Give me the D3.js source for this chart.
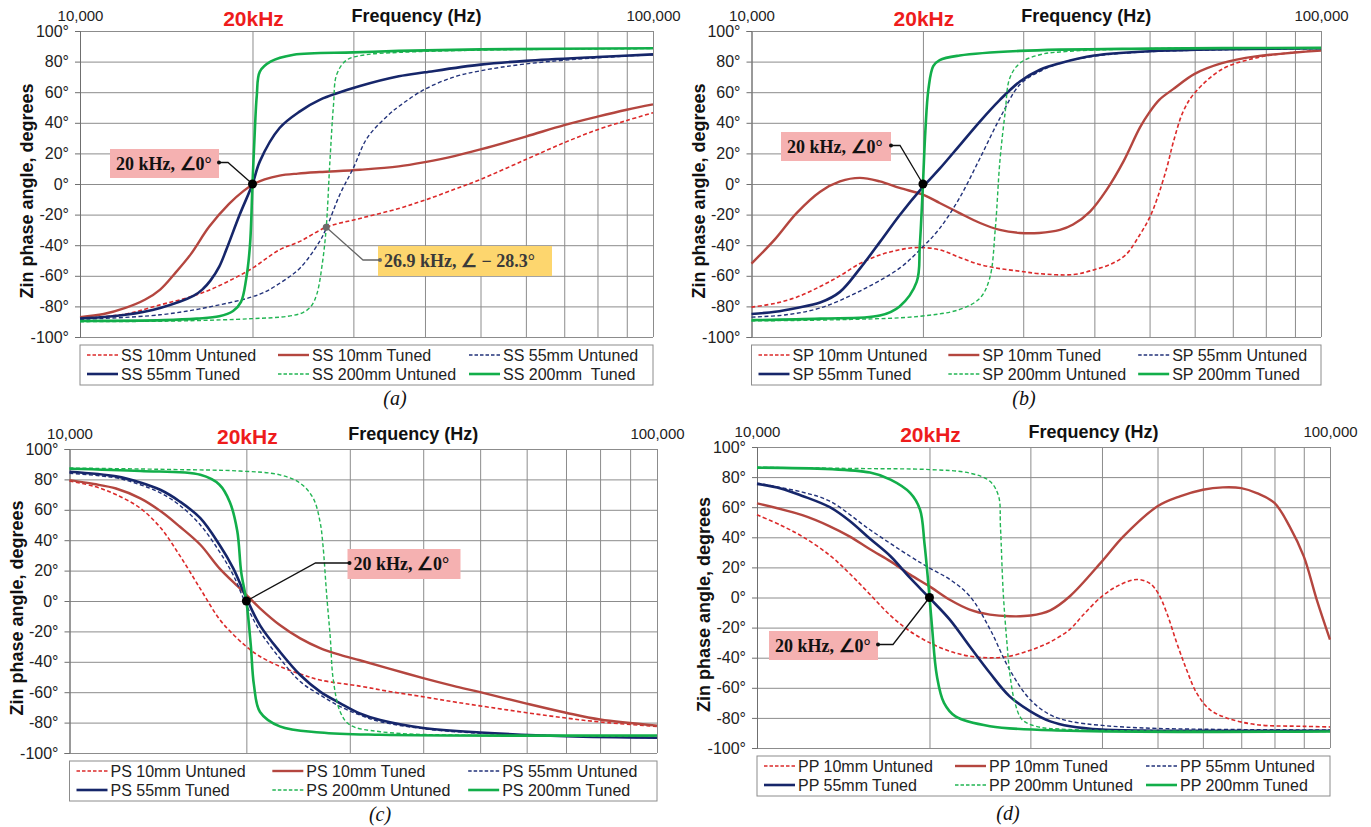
<!DOCTYPE html>
<html>
<head>
<meta charset="utf-8">
<script src="https://cdn.jsdelivr.net/npm/d3@7"></script>
<style>
  body { margin: 0; background: #fff; }
  svg { display: block; font-family: 'Liberation Sans', Arial, sans-serif; }
  .grid line { stroke: #8c8c8c; stroke-width: 1; }
  .grid .domain { display: none; }
  .yaxis .domain, .yaxis line { stroke: #6f6f6f; }
  .yaxis text { font-size: 16px; fill: #222; }
  .topaxis text { font-size: 15px; fill: #222; }
  .legend text { font-size: 16px; fill: #222; white-space: pre; }
</style>
</head>
<body>
<svg></svg>
<script>
//DATA  (frequency in kHz, Zin phase angle in degrees)

// (a) series-series
var ss10Untuned = [[10,-88],[12,-85],[13.8,-79],[15.5,-74],[16.9,-69],[18.5,-62],[20,-55],[22.3,-43],[24.2,-37.5],[26.9,-28.3],[30.8,-22.5],[36,-16],[40,-10.5],[45,-3.5],[50,3],[60,16],[70,27],[80,35.5],[90,41.5],[100,46.6]];
var ss10Tuned = [[10,-87],[11,-85],[12,-81],[13,-75.5],[13.8,-69],[14.6,-59],[15.6,-46],[16.8,-28],[18.2,-13],[19.3,-4.5],[20,-0.5],[21,3],[22.3,5.5],[24,6.8],[26.2,7.8],[30.8,9.3],[36,11.5],[40,14.3],[45,18.2],[50,22.6],[60,31],[70,38.5],[80,44],[90,48.5],[100,52]];
var ss55Untuned = [[10,-88.5],[13.8,-85.5],[17,-80],[20.6,-72],[22.5,-64],[24.2,-55],[26.2,-37.5],[26.9,-29],[28.4,-7],[30,10.5],[31.7,30],[34.5,45],[36.1,51],[40,62],[45,70],[50,74],[60,78.5],[80,82.5],[100,84.5]];
var ss55Tuned = [[10,-88],[12,-85.5],[13.8,-81],[15.8,-73],[16.4,-68.5],[16.9,-63],[17.5,-54],[18,-43],[19,-20],[20,0],[20.6,14.8],[22.3,36.6],[24.2,47.5],[26.2,55],[30.8,64],[36,70.4],[40,73],[50,78],[60,80.5],[80,83],[100,84.7]];
var ss200Untuned = [[10,-90],[15,-89.5],[20,-88],[23,-86.5],[24.5,-84],[25.3,-80],[25.9,-72],[26.5,-51],[26.9,-28.3],[27.3,15],[27.7,52],[28.05,71.5],[29.2,81],[31.6,84.5],[36,86],[50,87.5],[100,88.5]];
var ss200Tuned = [[10,-89.5],[14,-89],[16,-88],[17.5,-86.5],[18.5,-83],[19.1,-77],[19.5,-62],[19.8,-40],[20,0],[20.2,37],[20.35,58],[20.6,73.5],[21.5,80],[23.6,84.5],[30,86],[36,87],[50,88],[100,88.7]];

// (b) series-parallel
var sp10Untuned = [[10,-80.5],[11,-78],[12,-74],[13.2,-67],[14.3,-60],[15.5,-52],[16.8,-46.4],[18.2,-43],[19.6,-41.5],[21.4,-43],[23.2,-48],[25.2,-52.7],[27.3,-55.3],[29.6,-57],[32,-58.6],[36.7,-59.2],[40,-56],[43,-52],[45.5,-46],[48.1,-33],[50,-22],[51.4,-11],[53.6,10.5],[55.1,28],[57.3,47.5],[60,59.5],[67,75],[76.8,82.4],[87,85.5],[100,87.5]];
var sp10Tuned = [[10,-52],[11,-36],[12,-19],[13.2,-5],[14.3,1.7],[15.5,4],[16.8,1.7],[18.2,-2.6],[20,-7],[21.4,-12.4],[23.2,-19],[25.2,-25.5],[27.3,-30],[29.6,-32],[32,-32],[34.8,-30],[36.7,-26.5],[39.3,-18],[42,-4],[45,14.8],[48.1,37],[50,47],[52,55],[55,62],[60,72],[67,79],[76.8,83.4],[100,87.2]];
var sp55Untuned = [[10,-87],[11.5,-85.5],[13.2,-81],[15.5,-70],[18.2,-55],[20,-41],[21.4,-29],[23.2,-9],[25.2,17],[27.3,43],[29.6,65],[32.1,73.6],[34.8,79],[40,83.5],[50,86.5],[100,88.5]];
var sp55Tuned = [[10,-85],[11,-83.5],[12,-81],[13.2,-77.5],[14.3,-70.5],[15.5,-55.3],[16.8,-38],[18.2,-20.4],[20,-1.9],[21.4,10],[23.2,25.3],[25.2,41],[27.3,55],[29.6,67],[32.1,74.7],[34.8,79],[40,84],[50,86.8],[100,88.7]];
var sp200Untuned = [[10,-89.5],[15,-88.5],[19.7,-86.5],[23.2,-82],[25.2,-74.5],[26.2,-61.5],[26.8,-29],[27.3,15],[27.9,47.5],[28.4,69],[29.6,79],[32.1,84.5],[34.8,86.3],[50,88.5],[100,89]];
var sp200Tuned = [[10,-89],[13.2,-88],[16.8,-86],[18.2,-80],[19.5,-64],[19.75,-40],[20,0],[20.2,35],[20.45,62],[20.85,77],[21.4,81],[23.2,84],[29.6,87],[50,88.5],[100,89]];

// (c) parallel-series
var ps10Untuned = [[10,79],[11,75.5],[12,70],[13.2,61],[14.3,48],[15.4,30],[16.7,8],[18,-12],[19,-22],[20,-30],[21,-36],[22.8,-43],[24.7,-48],[26.7,-52],[31.2,-56],[35,-59.5],[40,-63],[45,-66.3],[50,-69],[60,-73.5],[70,-77],[80,-79.6],[100,-82.5]];
var ps10Tuned = [[10,79.5],[11,77],[12,74],[13.2,67.5],[14.3,59],[15.4,49],[16.7,37],[18,21.5],[19.5,8.3],[20,4],[21.1,-4.8],[22.8,-15.8],[24.7,-24.6],[26.7,-31],[28.9,-35.5],[31.2,-39],[35,-44.5],[40,-50.7],[45,-55.8],[50,-60],[60,-67.5],[70,-73.5],[80,-78],[100,-82]];
var ps55Untuned = [[10,84],[12,81],[13.2,76.5],[14.3,71],[15.4,63],[16.7,50],[18,32.5],[19,17],[20,-2.6],[21.1,-20],[22.8,-37.7],[24.7,-53],[26.7,-61.8],[28.9,-69.5],[31.2,-75],[33.8,-79.4],[40,-84],[50,-87],[100,-90]];
var ps55Tuned = [[10,85],[12,82],[13.2,78],[14.3,73],[15.4,65.5],[16.7,54.5],[18,37],[19,21.5],[20,2],[21.1,-16],[22.8,-33.3],[24.7,-48.7],[26.7,-59.6],[28.9,-67.3],[31.2,-74],[33.8,-78.3],[40,-83.5],[50,-86.5],[70,-89],[100,-90]];
var ps200Untuned = [[10,87.5],[15,86.5],[19.5,85.5],[22.8,83],[24.7,77.5],[26,67.5],[26.7,52],[27,37],[27.4,4],[27.8,-25],[28.1,-51],[28.9,-73],[30,-81.5],[33.8,-86],[50,-88.5],[100,-89]];
var ps200Tuned = [[10,87],[13.2,85.5],[16.7,83],[18,76.5],[18.75,65],[19.3,46],[19.6,19],[20,0],[20.35,-29],[20.6,-55],[21.1,-73],[22.8,-82.5],[26.7,-86.5],[33.8,-88],[100,-88.5]];

// (d) parallel-parallel
var pp10Untuned = [[10,55],[11,48],[12,40.5],[13.4,28],[14.5,16],[15.75,2],[17.1,-12],[18.5,-22.5],[20,-30],[21.7,-35.7],[23.5,-39],[25.5,-40.1],[27.6,-39],[30,-35],[32.5,-29.5],[35.2,-21],[37,-12],[40,0.8],[43,8.5],[46,12],[48.4,9.6],[50.1,3],[51.9,-10.3],[54,-30],[56.2,-48],[58.5,-63.4],[61.7,-74.5],[66,-80],[74.5,-84.5],[90,-85.6],[100,-86]];
var pp10Tuned = [[10,62.5],[12,54.7],[13.4,47.3],[14.5,40.6],[15.75,32],[17.1,24],[18.5,15.2],[20,7.4],[21.7,-1.5],[23.5,-8],[25.5,-11.4],[27.6,-12.5],[30,-12],[32.5,-8.5],[35.2,1],[40,24],[43.6,40.6],[50,60.6],[54.7,67.2],[60,71.6],[65,73.2],[70,72.7],[74.5,69.4],[80,62.8],[85,47.3],[90,27.3],[94.8,-1.4],[100,-28]];
var pp55Untuned = [[10,76],[12,70],[13.4,64],[15.75,45],[18.5,27.4],[20,19.6],[21.7,12],[23.5,1],[25.5,-21],[27.6,-48],[30,-68],[32.5,-78],[35.2,-82.3],[40,-85],[50,-87],[100,-88]];
var pp55Tuned = [[10,75.5],[11,72.5],[12,67.5],[13.4,60],[14.5,51],[15.75,39],[17.1,27.4],[18.5,13],[20,-0.3],[21.7,-14.7],[23.5,-32.4],[25.5,-50.2],[27.6,-65.7],[30,-75.6],[32.5,-82.3],[35.2,-85.6],[40,-87.8],[50,-88.5],[100,-88.5]];
var pp200Untuned = [[10,86.5],[15,85.7],[20,85],[23.5,82.7],[25.5,77.2],[26.4,67.3],[26.6,47],[26.9,3],[27.3,-30],[27.65,-52],[28.2,-70],[29,-81],[30.6,-85.5],[35,-87.7],[100,-89]];
var pp200Tuned = [[10,86.3],[15.75,83],[17.1,78.3],[18.5,69.5],[19.25,58.5],[19.6,36],[19.9,10],[20.2,-19],[20.6,-52],[21.2,-70],[22.2,-79],[25.5,-85.5],[35,-88.5],[100,-89]];

// LEGEND NAMES
var ssNames = ['SS 10mm Untuned', 'SS 10mm Tuned', 'SS 55mm Untuned', 'SS 55mm Tuned', 'SS 200mm Untuned', 'SS 200mm  Tuned'];
var spNames = ['SP 10mm Untuned', 'SP 10mm Tuned', 'SP 55mm Untuned', 'SP 55mm Tuned', 'SP 200mm Untuned', 'SP 200mm Tuned'];
var psNames = ['PS 10mm Untuned', 'PS 10mm Tuned', 'PS 55mm Untuned', 'PS 55mm Tuned', 'PS 200mm Untuned', 'PS 200mm Tuned'];
var ppNames = ['PP 10mm Untuned', 'PP 10mm Tuned', 'PP 55mm Untuned', 'PP 55mm Tuned', 'PP 200mm Untuned', 'PP 200mm Tuned'];

// TICKS
var yTicks = [100, 80, 60, 40, 20, 0, -20, -40, -60, -80, -100];
var freqGrid = [10, 20, 30, 40, 50, 60, 70, 80, 90, 100];
var freqLabels = [10, 100];

// ANNOTATIONS (panel index, kHz, degrees, label)
var annPanel = [0, 0, 1, 2, 3];
var annKhz = [20, 26.9, 20, 20, 20];
var annDeg = [0, -28.3, 0, 0, 0];
var annText = ['20 kHz, \u22200\u00b0', '26.9 kHz, \u2220 \u2212 28.3\u00b0', '20 kHz, \u22200\u00b0', '20 kHz, \u22200\u00b0', '20 kHz, \u22200\u00b0'];

//STYLES
var seriesColor = ['#dc2a2a', '#b4463f', '#22327a', '#16266a', '#22b553', '#12ae4a'];
var seriesWidth = [1.6, 2.4, 1.4, 2.6, 1.4, 2.6];
var seriesDash = ['4,2.5', null, '4,2.5', null, '4,2.5', null];

// box layout for annotations, relative to plot top-left
var annBox = [
    {x: 30, y: 118, w: 109, h: 29, fill: '#f5b1b1', color: '#111', elbow: 148, side: 'right'},
    {x: 298, y: 215, w: 174, h: 30, fill: '#fdd66e', color: '#3a3a3a', elbow: 283, side: 'left'},
    {x: 29.5, y: 101, w: 110, h: 29, fill: '#f5b1b1', color: '#111', elbow: 148.5, side: 'right'},
    {x: 278, y: 100, w: 113, h: 30, fill: '#f5b1b1', color: '#111', elbow: 246, side: 'left'},
    {x: 12, y: 184, w: 109, h: 29, fill: '#f5b1b1', color: '#111', elbow: 136, side: 'right'}
];

//PANEL SETUP
var panels = [
    {series: [ss10Untuned, ss10Tuned, ss55Untuned, ss55Tuned, ss200Untuned, ss200Tuned], names: ssNames,
     left: 80, right: 653, top: 31, bottom: 337, caption: '(a)', capX: 395, capY: 405},
    {series: [sp10Untuned, sp10Tuned, sp55Untuned, sp55Tuned, sp200Untuned, sp200Tuned], names: spNames,
     left: 751.5, right: 1321, top: 31, bottom: 337, caption: '(b)', capX: 1024, capY: 405},
    {series: [ps10Untuned, ps10Tuned, ps55Untuned, ps55Tuned, ps200Untuned, ps200Tuned], names: psNames,
     left: 69.5, right: 657, top: 449, bottom: 753, caption: '(c)', capX: 380, capY: 821},
    {series: [pp10Untuned, pp10Tuned, pp55Untuned, pp55Tuned, pp200Untuned, pp200Tuned], names: ppNames,
     left: 757, right: 1330, top: 447, bottom: 748, caption: '(d)', capX: 1008, capY: 820}
];

var svg = d3.select('svg')
    .attr('width', 1371)
    .attr('height', 827);

svg.append('rect')
    .attr('width', 1371)
    .attr('height', 827)
    .attr('fill', '#fff');

panels.forEach(function(p, pi) {
    var x = d3.scaleLog().domain([10, 100]).range([p.left, p.right]);
    var y = d3.scaleLinear().domain([-100, 100]).range([p.bottom, p.top]);
    var w = p.right - p.left;
    var h = p.bottom - p.top;

    var g = svg.append('g');

    //GRID
    g.append('g')
        .attr('class', 'grid')
        .attr('transform', 'translate(0,' + p.bottom + ')')
        .call(d3.axisBottom(x).tickValues(freqGrid).tickSize(-h).tickFormat(''));

    g.append('g')
        .attr('class', 'grid')
        .attr('transform', 'translate(' + p.left + ',0)')
        .call(d3.axisRight(y).tickValues(yTicks).tickSize(w).tickFormat(''));

    //AXES
    g.append('g')
        .attr('class', 'yaxis')
        .attr('transform', 'translate(' + p.left + ',0)')
        .call(d3.axisLeft(y).tickValues(yTicks).tickSize(5).tickPadding(6)
            .tickFormat(function(d) { return d + '\u00b0'; }));

    g.append('g')
        .attr('class', 'topaxis')
        .attr('transform', 'translate(0,' + p.top + ')')
        .call(d3.axisTop(x).tickValues(freqLabels).tickSize(0).tickPadding(10)
            .tickFormat(function(d) { return d3.format(',')(d * 1000); }))
        .call(function(s) { s.select('.domain').remove(); });

    g.append('text')
        .text('Frequency (Hz)')
        .attr('x', p.left + w / 2 + 50)
        .attr('y', p.top - 9)
        .attr('text-anchor', 'middle')
        .attr('font-size', 18)
        .attr('font-weight', 'bold')
        .attr('fill', '#111');

    g.append('text')
        .text('20kHz')
        .attr('x', x(20) + 1)
        .attr('y', p.top - 5)
        .attr('text-anchor', 'middle')
        .attr('font-size', 21)
        .attr('font-weight', 'bold')
        .attr('fill', '#ee1c1c');

    g.append('text')
        .text('Zin phase angle, degrees')
        .attr('transform', 'translate(' + (p.left - 53) + ',' + (p.top + h / 2 + 7) + ') rotate(-90)')
        .attr('text-anchor', 'middle')
        .attr('dominant-baseline', 'central')
        .attr('font-size', 18)
        .attr('font-weight', 'bold')
        .attr('fill', '#111');

    //CURVES
    var line = d3.line()
        .x(function(d) { return x(d[0]); })
        .y(function(d) { return y(d[1]); })
        .curve(d3.curveCatmullRom.alpha(0.5));

    g.selectAll('.curve')
        .data(p.series)
        .enter()
        .append('path')
        .attr('class', 'curve')
        .attr('d', line)
        .attr('fill', 'none')
        .attr('stroke', function(d, i) { return seriesColor[i]; })
        .attr('stroke-width', function(d, i) { return seriesWidth[i]; })
        .attr('stroke-dasharray', function(d, i) { return seriesDash[i]; });

    //LEGEND
    var lg = g.append('g')
        .attr('class', 'legend')
        .attr('transform', 'translate(' + p.left + ',' + (p.bottom + 8) + ')');

    lg.append('rect')
        .attr('width', w)
        .attr('height', 40)
        .attr('fill', '#fff')
        .attr('stroke', '#8c8c8c');

    var item = lg.selectAll('.item')
        .data(p.names)
        .enter()
        .append('g')
        .attr('class', 'item')
        .attr('transform', function(d, i) {
            return 'translate(' + (7 + (i % 3) * w / 3) + ',' + (10 + Math.floor(i / 3) * 19) + ')';
        });

    item.append('line')
        .attr('x1', 0)
        .attr('x2', 31)
        .attr('stroke', function(d, i) { return seriesColor[i]; })
        .attr('stroke-width', function(d, i) { return seriesWidth[i]; })
        .attr('stroke-dasharray', function(d, i) { return seriesDash[i] ? '3.5,2' : null; });

    item.append('text')
        .text(function(d) { return d; })
        .attr('x', 34)
        .attr('y', 6);

    //CAPTION
    g.append('text')
        .text(p.caption)
        .attr('x', p.capX)
        .attr('y', p.capY)
        .attr('text-anchor', 'middle')
        .attr('font-family', "'Liberation Serif', 'Times New Roman', serif")
        .attr('font-style', 'italic')
        .attr('font-size', 20)
        .attr('fill', '#111');

    //ANNOTATIONS
    annPanel.forEach(function(ap, ai) {
        if (ap !== pi) return;
        var b = annBox[ai];
        var bx = p.left + b.x, by = p.top + b.y;
        var dotX = b.side === 'right' ? bx + b.w : bx + 2;
        var dotY = by + b.h / 2 - 1;
        var px = x(annKhz[ai]), py = y(annDeg[ai]);
        var leaderColor = ai === 1 ? '#666' : '#111';

        g.append('rect')
            .attr('x', bx)
            .attr('y', by)
            .attr('width', b.w)
            .attr('height', b.h)
            .attr('fill', b.fill);

        g.append('text')
            .text(annText[ai])
            .attr('x', bx + 6)
            .attr('y', by + b.h / 2 + 6)
            .attr('font-family', "'Liberation Serif', 'Times New Roman', serif")
            .attr('font-weight', 'bold')
            .attr('font-size', 18)
            .attr('fill', b.color);

        g.append('polyline')
            .attr('points', [[dotX, dotY], [p.left + b.elbow, dotY], [px, py]].join(' '))
            .attr('fill', 'none')
            .attr('stroke', leaderColor)
            .attr('stroke-width', 1.3);

        g.append('circle')
            .attr('cx', dotX)
            .attr('cy', dotY)
            .attr('r', 2)
            .attr('fill', leaderColor);

        g.append('circle')
            .attr('cx', px)
            .attr('cy', py)
            .attr('r', ai === 1 ? 3.5 : 4.5)
            .attr('fill', ai === 1 ? '#6b6b6b' : '#000');
    });
});
</script>
</body>
</html>
